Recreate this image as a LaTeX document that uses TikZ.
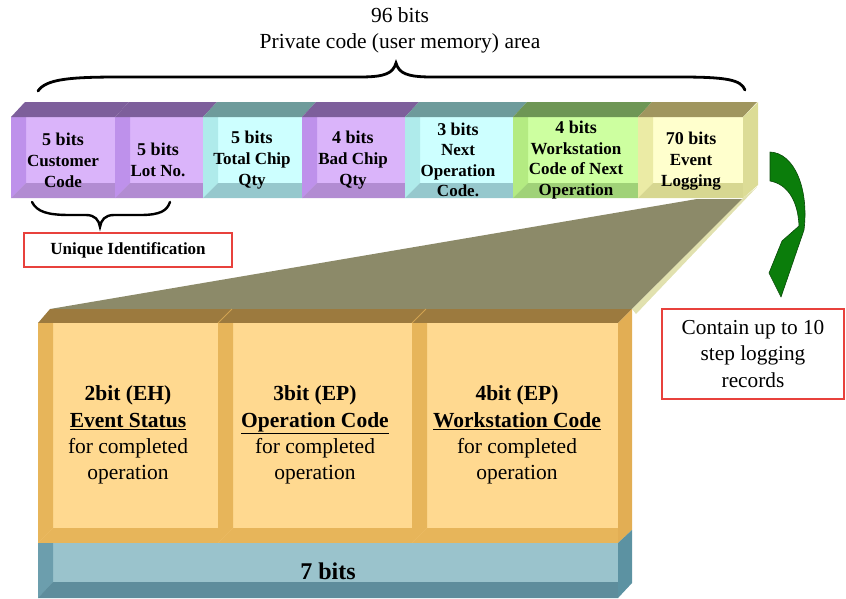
\documentclass[tikz,border=0pt]{standalone}
\usepackage{fontspec}
\setmainfont{Liberation Serif}
\begin{document}
\begin{tikzpicture}[x=1pt,y=-1pt,
  toplabel/.style={font=\fontsize{21.5}{26}\selectfont, align=center, inner sep=0pt},
  seglabel/.style={font=\bfseries\fontsize{17}{21}\selectfont, align=center, inner sep=0pt},
  loglabel/.style={font=\fontsize{21.5}{26.2}\selectfont, align=center, inner sep=0pt},
  notebox/.style={draw=boxred, line width=1.6pt, fill=white},
  bracepath/.style={line width=2.8pt, line cap=round},
]
\definecolor{purIn}{HTML}{DAB4FA}\definecolor{purL}{HTML}{BE91EB}
\definecolor{purB}{HTML}{B28CD2}\definecolor{purT}{HTML}{7D5F9B}
\definecolor{cyaIn}{HTML}{CDFFFF}\definecolor{cyaL}{HTML}{AFEBEB}
\definecolor{cyaB}{HTML}{96C8CD}\definecolor{cyaT}{HTML}{6E9B9B}
\definecolor{grnIn}{HTML}{CDFFA0}\definecolor{grnL}{HTML}{B4EB82}
\definecolor{grnB}{HTML}{A0D278}\definecolor{grnT}{HTML}{6E9655}
\definecolor{yelIn}{HTML}{FFFFCD}\definecolor{yelL}{HTML}{EBEBA5}
\definecolor{yelB}{HTML}{D7D791}\definecolor{yelT}{HTML}{A0965F}
\definecolor{yelR}{HTML}{DCDC96}
\definecolor{orIn}{HTML}{FFD990}\definecolor{orBev}{HTML}{E7B55A}
\definecolor{orTop}{HTML}{9C7A3E}\definecolor{orSide}{HTML}{E2AE54}
\definecolor{tlIn}{HTML}{9AC3CC}\definecolor{tlL}{HTML}{6C9EAD}
\definecolor{tlB}{HTML}{5E8D9C}\definecolor{tlSide}{HTML}{5C92A2}
\definecolor{zoomGrey}{HTML}{8C8A69}\definecolor{zoomLight}{HTML}{E1E1AF}
\definecolor{boxred}{HTML}{E8413C}
\definecolor{arrowFill}{HTML}{0B7D0B}\definecolor{arrowLine}{HTML}{0A4A0A}

\useasboundingbox (0,0) rectangle (846,598);

% one field of the 96-bit bar: front face, left and bottom bevels, top face
\newcommand\barfield[6]{%
  \fill[#3] (#1,117) rectangle (#2,198);
  \fill[#4] (#1,117) -- (#1+15,117) -- (#1+15,183) -- (#1,198) -- cycle;
  \fill[#5] (#1,198) -- (#1+15,183) -- (#2,183) -- (#2,198) -- cycle;
  \fill[#6] (#1,117) -- (#1+14,102) -- (#2+14,102) -- (#2,117) -- cycle;
}
% one field of the logging record block
\newcommand\logfield[2]{%
  \fill[orIn] (#1,323) rectangle (#2,543);
  \fill[orBev] (#1,323) -- (#1+15,323) -- (#1+15,528) -- (#1,543) -- cycle;
  \fill[orBev] (#1,543) -- (#1+15,528) -- (#2,528) -- (#2,543) -- cycle;
}

% heading and brace over the whole bar
\node[toplabel] (title) at (400,30) {96 bits\\Private code (user memory) area};
\draw[bracepath] (38,91) .. controls (46,79) and (70,77) .. (120,77) -- (360,77)
  .. controls (386,77) and (393,73) .. (396,63)
  .. controls (399,73) and (406,77) .. (432,77) -- (680,77)
  .. controls (728,77) and (741,80) .. (745,90);

% projection from the event-logging field down to its record layout
\coordinate (projA) at (50,309);
\coordinate (projB) at (697,199);
\coordinate (projC) at (743,199);
\coordinate (projD) at (632,309);
\fill[zoomGrey] (projA) -- (projB) -- (projC) -- (projD) -- cycle;
\fill[zoomLight] (743,198) -- (757,187) -- (636,314) -- (632,309) -- cycle;

% the 96-bit bar
\barfield{11}{115}{purIn}{purL}{purB}{purT}
\barfield{115}{203}{purIn}{purL}{purB}{purT}
\barfield{203}{302}{cyaIn}{cyaL}{cyaB}{cyaT}
\barfield{302}{405}{purIn}{purL}{purB}{purT}
\barfield{405}{513}{cyaIn}{cyaL}{cyaB}{cyaT}
\barfield{513}{638}{grnIn}{grnL}{grnB}{grnT}
\barfield{638}{743}{yelIn}{yelL}{yelB}{yelT}
\fill[yelR] (743,117) -- (758,102) -- (758,185) -- (743,198) -- cycle;

\node[seglabel] (cust) at (63,160) {{\fontsize{18}{21}\selectfont 5 bits}\\Customer\\Code};
\node[seglabel] (lot)  at (158,160) {{\fontsize{18}{21}\selectfont 5 bits}\\Lot No.};
\node[seglabel] (total) at (252,160) {{\fontsize{18}{21}\selectfont 5 bits}\\Total Chip\\Qty};
\node[seglabel] (bad)  at (353,160) {{\fontsize{18}{21}\selectfont 4 bits}\\Bad Chip\\Qty};
\node[seglabel, font=\bfseries\fontsize{17}{20.5}\selectfont] (nextop) at (458,160)
  {{\fontsize{18}{20.5}\selectfont 3 bits}\\Next\\Operation\\Code.};
\node[seglabel, font=\bfseries\fontsize{17}{20.5}\selectfont] (wsnext) at (576,160)
  {{\fontsize{18}{20.5}\selectfont 4 bits}\\Workstation\\Code of Next\\Operation};
\node[seglabel] (evlog) at (691,161) {{\fontsize{18}{21}\selectfont 70 bits}\\Event\\Logging};

% brace under customer code and lot number
\draw[line width=2.4pt, line cap=round] (32,202) .. controls (37,212) and (48,215) .. (70,215) -- (86,215)
  .. controls (95,215) and (99,220) .. (100,227)
  .. controls (101,220) and (105,215) .. (114,215) -- (140,215)
  .. controls (160,215) and (167,211) .. (170,202);
\node[notebox, minimum width=208pt, minimum height=34pt, inner sep=0pt,
      font=\bfseries\fontsize{17}{20}\selectfont] (uid) at (128,250) {Unique Identification};

% curved arrow pointing to the note on logging records
\fill[arrowFill, draw=arrowLine, line width=0.6pt, line join=round]
  (770,152) .. controls (795,153) and (809,190) .. (804,230)
  -- (781,297) -- (769,273) -- (782,241) -- (799,226)
  .. controls (798,200) and (787,184) .. (770,181) -- cycle;
\node[notebox, minimum width=182pt, minimum height=90pt, inner sep=0pt,
      font=\fontsize{21.3}{26.5}\selectfont, align=center] (steps) at (753,354)
  {Contain up to 10\\step logging\\records};

% logging record block
\fill[orTop] (38,323) -- (50,309) -- (632,309) -- (618,323) -- cycle;
\draw[orBev!70!orTop, line width=1pt] (218,323) -- (232,309) (412,323) -- (426,309);
\logfield{38}{218}
\logfield{218}{412}
\logfield{412}{618}
\fill[orSide] (618,323) -- (632,309) -- (632,530) -- (618,543) -- cycle;

\node[loglabel] (eh) at (128,435) {\textbf{2bit (EH)}\\\textbf{\underline{Event Status}}\\for completed\\operation};
\node[loglabel] (ep) at (315,435) {\textbf{3bit (EP)}\\\textbf{\underline{Operation Code}}\\for completed\\operation};
\node[loglabel] (ws) at (517,435) {\textbf{4bit (EP)}\\\textbf{\underline{Workstation Code}}\\for completed\\operation};

% 7-bit base under the record fields
\fill[tlIn] (38,543) rectangle (618,598);
\fill[tlL] (38,543) -- (53,543) -- (53,582) -- (38,598) -- cycle;
\fill[tlB] (38,598) -- (53,582) -- (618,582) -- (618,598) -- cycle;
\fill[tlSide] (618,543) -- (632,530) -- (632,583) -- (618,598) -- cycle;
\node[font=\bfseries\fontsize{24}{28}\selectfont, inner sep=0pt] (seven) at (328,571) {7 bits};
\end{tikzpicture}
\end{document}
